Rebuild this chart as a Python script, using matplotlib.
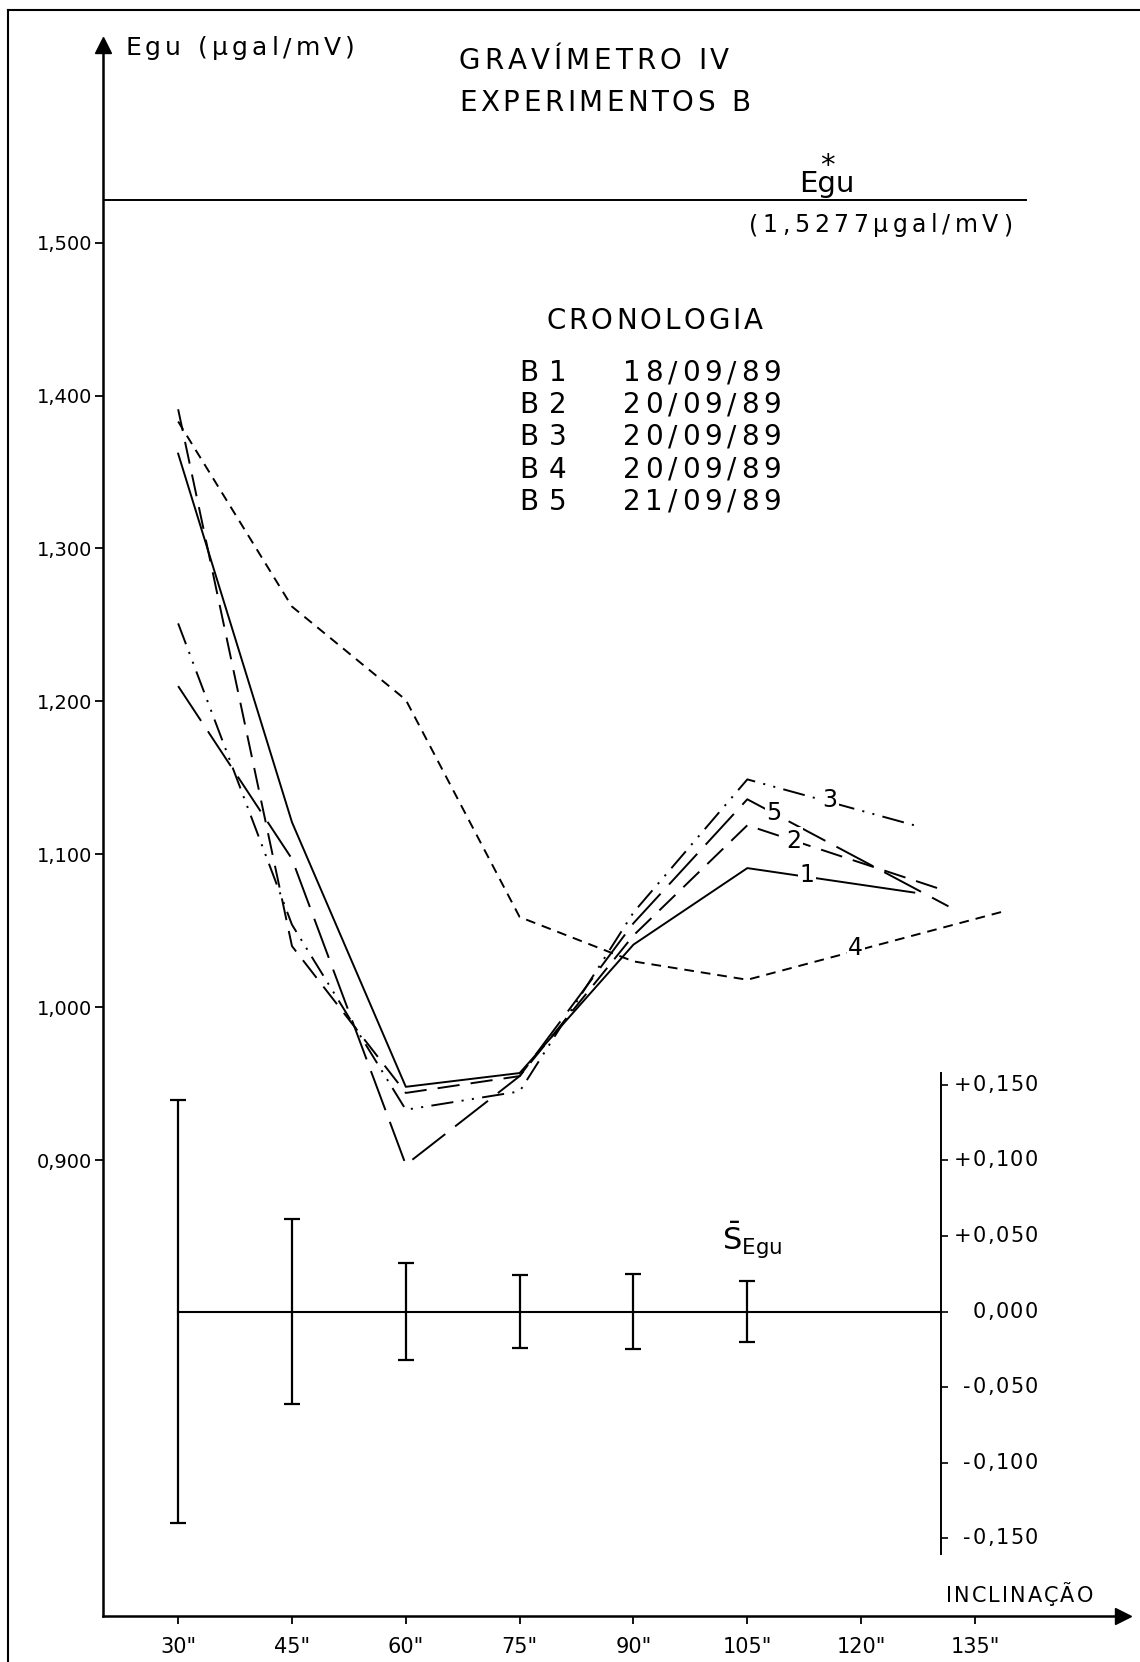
import numpy as np
import matplotlib
matplotlib.use('Agg')
import matplotlib.pyplot as plt
from matplotlib.lines import Line2D

plt.rcParams['font.family'] = ['DejaVu Sans']
plt.rcParams['lines.scale_dashes'] = False

# inclination (arc seconds) and Egu values
x_b1 = [30, 45, 60, 75, 90, 105, 127]
y_b1 = [1.362, 1.121, 0.948, 0.957, 1.041, 1.091, 1.075]
x_b2 = [30, 45, 60, 75, 90, 105, 130]
y_b2 = [1.391, 1.040, 0.944, 0.955, 1.047, 1.119, 1.078]
x_b3 = [30, 45, 60, 75, 90, 105, 127]
y_b3 = [1.251, 1.054, 0.933, 0.945, 1.062, 1.149, 1.119]
x_b4 = [30, 45, 60, 75, 90, 105, 139]
y_b4 = [1.383, 1.262, 1.201, 1.059, 1.030, 1.018, 1.063]
x_b5 = [30, 45, 60, 75, 90, 105, 131.5]
y_b5 = [1.210, 1.097, 0.897, 0.955, 1.055, 1.136, 1.066]

egu_ref = 1.5277

# standard deviation S_Egu per inclination
x_err = [30, 45, 60, 75, 90, 105]
s_egu = [0.140, 0.061, 0.032, 0.024, 0.025, 0.020]

xticks = [30, 45, 60, 75, 90, 105, 120, 135]
yticks = [0.9, 1.0, 1.1, 1.2, 1.3, 1.4, 1.5]
rticks = [0.15, 0.10, 0.05, 0.0, -0.05, -0.10, -0.15]
rlabels = ['+0,150', '+0,100', '+0,050', '0,000', '-0,050', '-0,100', '-0,150']

chrono_codes = ['B', 'B', 'B', 'B', 'B']
chrono_nums = ['1', '2', '3', '4', '5']
chrono_dates = ['18/09/89', '20/09/89', '20/09/89', '20/09/89', '21/09/89']

W, H = 1140, 1662
fig = plt.figure(figsize=(W / 100, H / 100), dpi=100)
renderer = fig.canvas.get_renderer()
rect = [103 / W, (H - 1616) / H, (1123 - 103) / W, (1616 - 44.5) / H]
ax = fig.add_axes(rect)
ax.set_xlim(20.1, 154.5)
ax.set_ylim(0.602, 1.6295)

for s in ['top', 'right']:
    ax.spines[s].set_visible(False)
for s in ['left', 'bottom']:
    ax.spines[s].set_linewidth(1.8)
ax.plot(0, 1, marker='^', ms=11, color='k', transform=ax.transAxes, clip_on=False)
ax.plot(1, 0, marker='>', ms=11, color='k', transform=ax.transAxes, clip_on=False)

ax.set_xticks(xticks)
ax.set_xticklabels(['%d"' % v for v in xticks], fontsize=15)
ax.set_yticks(yticks)
ax.set_yticklabels([('%.3f' % v).replace('.', ',') for v in yticks], fontsize=14)
ax.tick_params(direction='out', length=6, width=1.3)
ax.tick_params(axis='y', pad=2)
ax.tick_params(axis='x', pad=9)

lw = 1.4
ax.plot(x_b1, y_b1, color='k', lw=lw)
ax.plot(x_b2, y_b2, color='k', lw=lw, dashes=(16, 8))
ax.plot(x_b3, y_b3, color='k', lw=lw, dashes=(16, 6, 1.5, 6, 1.5, 6))
ax.plot(x_b4, y_b4, color='k', lw=lw, dashes=(7, 5))
ax.plot(x_b5, y_b5, color='k', lw=lw, dashes=(30, 9))

ax.plot([20.1, 141.7], [egu_ref, egu_ref], color='k', lw=1.4)

# series numbers beside the lines
for txt, xx, yy in [('1', 112.9, 1.0865), ('2', 111.1, 1.109), ('3', 115.9, 1.1355),
                    ('4', 119.3, 1.0385), ('5', 108.5, 1.1268)]:
    ax.text(xx, yy, txt, fontsize=17, ha='center', va='center',
            bbox=dict(fc='white', ec='none', pad=1))

# second scale for the standard deviations
ax2 = fig.add_axes(rect)
ax2.patch.set_visible(False)
ax2.set_xlim(20.1, 154.5)
ax2.set_ylim(-0.2013, 0.838)
for s in ['top', 'left', 'bottom']:
    ax2.spines[s].set_visible(False)
ax2.spines['right'].set_position(('data', 130.5))
ax2.spines['right'].set_bounds(-0.16, 0.158)
ax2.spines['right'].set_linewidth(1.4)
ax2.set_xticks([])
ax2.yaxis.tick_right()
ax2.set_yticks(rticks)
ax2.tick_params(axis='y', direction='out', length=5, width=1.2, labelright=False)

ax2.plot([30, 130.5], [0, 0], color='k', lw=1.5)
ax2.errorbar(x_err, np.zeros(len(x_err)), yerr=s_egu, fmt='none', ecolor='k',
             elinewidth=1.6, capsize=6, capthick=1.6)
ax2.text(101.7, 0.047, r'$\bar{\mathrm{S}}_{\mathrm{Egu}}$', fontsize=22, ha='left', va='center')


def char_width(ch, size):
    if ch == ' ':
        return 0.33 * size * 100 / 72
    t = fig.text(0, 0, ch, fontsize=size)
    w = t.get_window_extent(renderer).width
    t.remove()
    return w


def spaced(x0, y, s, size, x1=None, track=2.0, align='left'):
    """draw s letter by letter (y in px from the top), stretched to x0..x1 if given"""
    ws = [char_width(c, size) for c in s]
    if x1 is not None:
        track = (x1 - x0 - sum(ws)) / max(len(s) - 1, 1)
    total = sum(ws) + track * (len(s) - 1)
    x = x0 - total if align == 'right' else x0
    for c, w in zip(s, ws):
        if c != ' ':
            fig.text(x / W, 1 - y / H, c, fontsize=size, ha='left', va='center')
        x += w + track


spaced(125, 48, 'Egu (μgal/mV)', 18, x1=355)
spaced(459, 61, 'GRAVÍMETRO IV', 20, x1=729)
spaced(459, 103, 'EXPERIMENTOS B', 20, x1=750)
fig.text(827 / W, 1 - 175 / H, '*\nEgu', fontsize=21, ha='center', va='center',
         multialignment='center', linespacing=0.5)
spaced(749, 225, '(1,5277μgal/mV)', 17, x1=1012)
spaced(546, 321, 'CRONOLOGIA', 20, x1=763)
for i, (c, n, d) in enumerate(zip(chrono_codes, chrono_nums, chrono_dates)):
    yy = 373 + i * 32.2
    spaced(519, yy, c, 20)
    spaced(549, yy, n, 20)
    spaced(623, yy, d, 20, x1=781)
spaced(946, 1596, 'INCLINAÇÃO', 15, x1=1093)

# right scale labels
for v, lab in zip(rticks, rlabels):
    ypx = H - ax2.transData.transform((130.5, v))[1]
    spaced(1038, ypx, lab, 15, track=1.5, align='right')

# page border from the scan
fig.add_artist(Line2D([8 / W, 1], [1 - 10 / H, 1 - 10 / H], transform=fig.transFigure, color='k', lw=1.5))
fig.add_artist(Line2D([8 / W, 8 / W], [0, 1 - 10 / H], transform=fig.transFigure, color='k', lw=1.5))

fig.savefig('out.png', dpi=100, facecolor='white')
